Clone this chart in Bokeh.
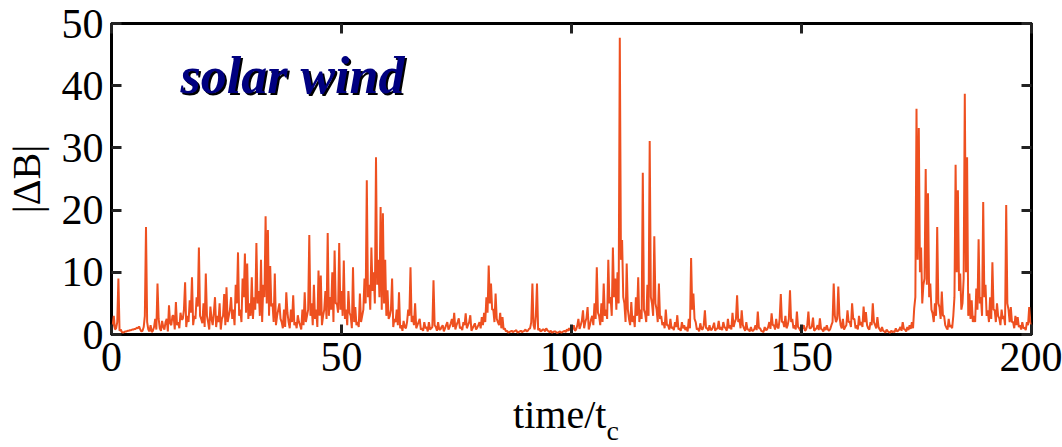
from bokeh.plotting import figure
from bokeh.models import Range1d, LinearAxis, Label, FixedTicker, Div
from bokeh.layouts import column
from bokeh.embed import file_html
from bokeh.resources import INLINE

# |dB|. "on" lists: samples at t = 10k, 10k+0.5, ... ;
# "mid" lists: samples at t = 10k+0.25, 10k+0.75, ... (the dense noise floor between them)
on_000 = [0.5, 3, 1, 9, 0.8, 0.3, 0.5, 0.6, 0.7, 0.8, 0.9, 1.1, 1.3, 0.5, 1.2, 17.3, 0.8, 1.5, 0.6, 2.5]
on_010 = [8.2, 1, 2.2, 0.8, 2.5, 4.7, 1.5, 3, 5.2, 2, 3.5, 2.5, 8.4, 3, 5.5, 9.2, 3, 6, 14, 2.5]
on_020 = [5, 9.8, 2, 4.5, 1.5, 6, 3, 5, 2.5, 6.5, 7.6, 3, 6, 4, 8, 13.2, 4, 9, 13, 11.4]
on_030 = [5, 9.2, 6, 14.7, 7, 12, 8, 19, 16.8, 11, 5, 9.8, 3, 5, 2, 4, 6.8, 2, 4, 6.3]
on_040 = [2, 3.1, 1.5, 4, 6.8, 3, 16, 5, 8, 4, 10.3, 9.5, 3, 7, 16.3, 6, 10, 13.5, 5, 14.7]
on_050 = [7, 11.9, 4, 7, 3, 10.8, 4.4, 2, 6.6, 3, 9, 24.8, 8, 14, 10, 28.5, 12, 20.5, 19.5, 12]
on_060 = [7.1, 3, 9, 2.5, 4, 6.8, 1.5, 2.2, 1, 4, 10.8, 3, 5, 1.5, 2.5, 1, 2, 1.2, 2, 1]
on_070 = [8.7, 1.2, 2, 0.8, 1.5, 1, 2, 1.2, 2.5, 3.5, 1.5, 2.6, 1.2, 2, 3.4, 1.5, 3.1, 1, 1.8, 1.1]
on_080 = [2, 2.8, 3.5, 6, 11.1, 8.2, 4, 6.6, 2, 3.5, 2.8, 1, 0.6, 0.4, 0.6, 0.5, 0.7, 0.4, 0.6, 0.5]
on_090 = [0.8, 0.6, 1, 8.2, 0.8, 8.2, 1, 0.6, 0.8, 1, 0.5, 0.6, 0.4, 0.5, 0.3, 0.5, 0.4, 0.6, 0.8, 1]
on_100 = [0.5, 1.5, 0.8, 2.5, 1.5, 3.9, 2, 4.4, 1.5, 3, 5, 10.8, 3, 5, 8.2, 4, 12, 6, 14, 9]
on_110 = [10, 47.7, 15.2, 5, 11.4, 2.5, 5.2, 3, 6, 9.2, 4, 26, 3.4, 8, 31.1, 5, 15.8, 4, 8.2, 3]
on_120 = [2, 4, 1.5, 2.5, 1.2, 2, 3.1, 1, 2, 1.5, 1.2, 2.5, 12.3, 6.6, 2, 1, 1.8, 0.8, 3.9, 1]
on_130 = [1.5, 0.8, 1.9, 1, 2.2, 1.2, 2, 1, 2.5, 1.5, 3.5, 2, 6.3, 2.5, 3.9, 1, 2, 0.8, 1.2, 0.6]
on_140 = [1.5, 3.7, 1, 0.5, 1.2, 0.8, 2, 3.4, 1.5, 2.5, 1, 6.5, 2, 3, 1.5, 7.1, 2.5, 1.5, 3.7, 1]
on_150 = [0.8, 1.5, 0.8, 3.7, 1, 2.7, 0.8, 1.5, 2.6, 0.8, 1.2, 1.5, 0.6, 1.5, 8.2, 2, 7.7, 1.5, 2.5, 1.2]
on_160 = [3.9, 2, 5, 2.5, 1.5, 3, 2, 4.5, 3.6, 1, 2, 5, 1.5, 2.8, 0.8, 1.2, 0.5, 0.8, 0.4, 0.6]
on_170 = [0.5, 1, 0.6, 1.2, 2, 0.8, 1.2, 1.5, 2, 4.2, 36.3, 33.2, 14, 8, 26.6, 22.7, 8.2, 3.4, 5, 17.3]
on_180 = [4.4, 6.9, 3, 1.1, 2.5, 1.5, 3, 27.3, 23.2, 9.8, 5, 38.7, 28.5, 6.6, 5.5, 3, 7.4, 15.3, 6, 21.3]
on_190 = [8, 3.9, 6, 11.6, 3.9, 5, 2.6, 4, 3, 20.8, 4, 4.4, 2, 3, 2.8, 1.5, 2, 1.1, 2, 4.4]
on_200 = [1.5]

mid_000 = [1.5, 0.8, 2, 0.6, 0.4, 0.4, 0.5, 0.6, 0.7, 0.8, 0.9, 1.0, 0.8, 0.6, 3, 2, 0.5, 0.4, 1.2, 0.8]
mid_010 = [2.5, 0.6, 1.2, 2, 0.5, 1.8, 3, 0.8, 1.5, 1, 2.4, 4, 1.2, 2, 3.5, 1.5, 2.5, 4.5, 3, 1.8]
mid_020 = [1.2, 3, 0.8, 2.5, 3.5, 1.2, 2, 0.8, 3, 1.5, 2, 4, 2.5, 1.5, 5, 3, 2, 6, 3.5, 2.5]
mid_030 = [3, 2.5, 4, 5, 3, 2, 6, 5, 3, 4.5, 2, 1.5, 4, 2.5, 1, 1.2, 3.5, 1, 2, 1.5]
mid_040 = [1, 2, 0.8, 1.5, 2, 4, 3, 1.5, 2.5, 1.2, 3, 1.5, 4, 2.5, 3, 4, 2, 5, 3.5, 4]
mid_050 = [3, 2.5, 1.5, 3.5, 1, 2, 1.5, 1.2, 2, 4, 5, 6, 4, 7, 5, 8, 6, 4, 5, 3]
mid_060 = [2.5, 4, 1.2, 2, 1.5, 1, 0.6, 1.2, 2, 3, 2, 1.5, 1, 2, 0.8, 0.6, 1, 0.5, 0.8, 1.2]
mid_070 = [1.5, 0.6, 0.8, 1.2, 0.5, 1.5, 0.8, 1.8, 1.2, 0.8, 2, 1, 0.7, 1.5, 1, 2, 0.6, 1.4, 0.8, 1.5]
mid_080 = [1, 1.5, 2, 3.5, 5, 4, 2, 2.5, 1.5, 1, 0.8, 0.5, 0.3, 0.5, 0.4, 0.6, 0.3, 0.5, 0.4, 0.6]
mid_090 = [0.5, 0.9, 2, 1.5, 3, 0.7, 0.5, 0.8, 0.5, 0.7, 0.4, 0.3, 0.5, 0.3, 0.4, 0.3, 0.5, 0.4, 0.6, 0.7]
mid_100 = [0.9, 0.6, 1.4, 0.9, 2.2, 1, 2.6, 0.8, 2.4, 1.5, 2.5, 3.5, 1.5, 2, 3, 2.5, 5, 3, 6, 4]
mid_110 = [5, 12, 6, 2, 4, 1.5, 2, 1.2, 3, 2, 2.5, 4, 2, 3, 6, 3, 5, 2, 2.5, 1.5]
mid_120 = [1, 1.5, 0.8, 1, 0.7, 1.2, 0.8, 0.6, 1, 0.7, 0.5, 1, 4, 2.5, 0.8, 0.5, 0.9, 1.5, 1, 0.6]
mid_130 = [0.7, 1.2, 0.6, 0.9, 0.8, 0.7, 1.2, 0.6, 1, 0.8, 1.2, 2.5, 2, 1, 1.5, 0.6, 0.8, 0.5, 0.6, 0.9]
mid_140 = [0.7, 1, 0.6, 0.4, 0.7, 1.2, 0.9, 1.5, 0.8, 1.2, 2.5, 2, 1.2, 1, 2.5, 2, 1, 0.8, 1.2, 0.6]
mid_150 = [1, 0.6, 1.5, 1, 1.3, 0.6, 1, 0.7, 0.9, 0.5, 0.7, 0.8, 0.9, 2, 3, 2.5, 3, 1, 0.8, 1.5]
mid_160 = [2, 1.2, 2.5, 1, 0.8, 1.5, 1.2, 2, 1.5, 0.8, 1.5, 2, 1, 1.2, 0.5, 0.6, 0.3, 0.5, 0.3, 0.4]
mid_170 = [0.4, 0.5, 0.8, 0.6, 0.9, 0.5, 0.7, 0.9, 1, 6, 12, 10, 5, 9, 8, 6, 4, 2, 3, 5]
mid_180 = [2.5, 3, 1.5, 0.8, 1.2, 1, 6, 10, 7, 4, 9, 10, 3, 2.5, 2, 2, 4, 5, 3, 6]
mid_190 = [3, 2, 2.5, 4, 2, 3, 1.5, 2.5, 1.5, 5, 2, 2, 1, 1.5, 1.2, 0.8, 1, 0.7, 1.5, 2]

on_blocks = [on_000, on_010, on_020, on_030, on_040, on_050, on_060, on_070, on_080, on_090,
             on_100, on_110, on_120, on_130, on_140, on_150, on_160, on_170, on_180, on_190]
mid_blocks = [mid_000, mid_010, mid_020, mid_030, mid_040, mid_050, mid_060, mid_070, mid_080, mid_090,
              mid_100, mid_110, mid_120, mid_130, mid_140, mid_150, mid_160, mid_170, mid_180, mid_190]

dB = []
for ob, mb in zip(on_blocks, mid_blocks):
    for a, b in zip(ob, mb):
        dB.append(a)
        dB.append(b)
dB += on_200
time = [0.25 * i for i in range(len(dB))]

x_ticks = [0, 50, 100, 150, 200]
y_ticks = [0, 10, 20, 30, 40, 50]
label_text = "solar wind"
ylabel = "|ΔB|"

SERIF = "Liberation Serif"

p = figure(width=1062, height=395, output_backend="svg", toolbar_location=None,
           x_range=Range1d(0, 200), y_range=Range1d(0, 50),
           min_border_left=101, min_border_right=31, min_border_top=23, min_border_bottom=61)
p.grid.visible = False
p.outline_line_color = "black"
p.outline_line_width = 3
p.background_fill_color = "white"
p.border_fill_color = "white"

p.line(time, dB, line_color="#EE5020", line_width=2.0)

def style(ax, labels=True):
    ax.axis_line_color = None
    ax.major_tick_in = 10
    ax.major_tick_out = 0
    ax.minor_tick_in = 0
    ax.minor_tick_out = 0
    ax.major_tick_line_width = 3
    ax.major_tick_line_color = "#222222"
    ax.major_label_text_font = SERIF
    ax.major_label_text_font_size = "42px"
    ax.major_label_text_color = "black"
    ax.major_label_standoff = 8
    if not labels:
        ax.major_label_text_font_size = "0px"
        ax.major_label_text_alpha = 0

p.xaxis.ticker = FixedTicker(ticks=x_ticks)
p.yaxis.ticker = FixedTicker(ticks=y_ticks)
style(p.xaxis[0])
style(p.yaxis[0])
p.yaxis.axis_label = ylabel
p.yaxis.axis_label_text_font = SERIF
p.yaxis.axis_label_text_font_style = "normal"
p.yaxis.axis_label_text_font_size = "40px"
p.yaxis.axis_label_text_color = "black"
p.yaxis.axis_label_standoff = 10

top = LinearAxis(ticker=FixedTicker(ticks=x_ticks))
style(top, labels=False)
p.add_layout(top, "above")
right = LinearAxis(ticker=FixedTicker(ticks=y_ticks))
style(right, labels=False)
p.add_layout(right, "right")

# "solar wind" with a dark shadow
p.add_layout(Label(x=15, y=37.0, text=label_text, text_font=SERIF, text_font_size="52px",
                   text_font_style="bold italic", text_color="black",
                   x_offset=2, y_offset=-2))
p.add_layout(Label(x=15, y=37.0, text=label_text, text_font=SERIF, text_font_size="52px",
                   text_font_style="bold italic", text_color="#000080"))

# x axis label: time/t_c
xlabel = Div(text='time/t<span style="font-size:28px; vertical-align:-12px">c</span>', width=1062, height=52,
             styles={"font-family": "Liberation Serif", "font-size": "40px", "color": "black",
                     "text-align": "center", "padding-left": "70px", "box-sizing": "border-box",
                     "line-height": "40px", "margin": "0"})

layout = column(p, xlabel, spacing=0)
open("out.html", "w").write(file_html(layout, INLINE))
